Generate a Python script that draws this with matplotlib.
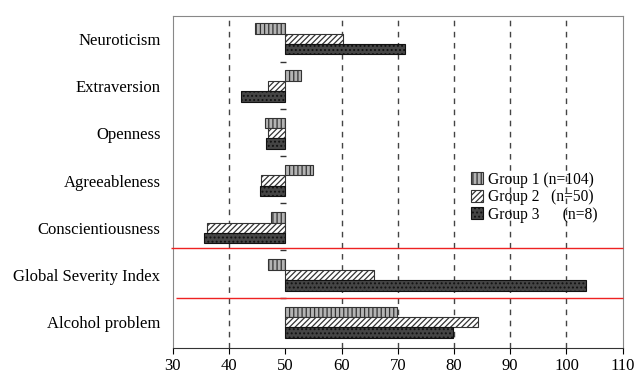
import matplotlib
matplotlib.use("Agg")
import matplotlib.pyplot as plt
import numpy as np

categories = ["Neuroticism", "Extraversion", "Openness", "Agreeableness",
              "Conscientiousness", "Global Severity Index", "Alcohol problem"]
group1 = [44.6, 52.7, 46.3, 55.0, 47.4, 46.9, 69.9]
group2 = [60.2, 47.0, 47.0, 45.7, 36.0, 65.7, 84.2]
group3 = [71.2, 42.1, 46.6, 45.5, 35.6, 103.5, 79.9]
labels = ["Group 1 (n=104)", "Group 2   (n=50)", "Group 3      (n=8)"]
base = 50

plt.rcParams["font.family"] = ["Liberation Serif", "DejaVu Serif"]
plt.rcParams["hatch.linewidth"] = 0.9

fig = plt.figure(figsize=(6.38, 3.76), dpi=100)
ax = fig.add_axes([0.271, 0.074, 0.705, 0.883])

y = np.arange(len(categories))
h = 0.22
styles = [
    dict(facecolor="#b4b4b4", hatch="||||", edgecolor="#333333"),
    dict(facecolor="white", hatch="//////", edgecolor="#333333"),
    dict(facecolor="#454545", hatch="....", edgecolor="#111111"),
]
for k, vals in enumerate([group1, group2, group3]):
    vals = np.array(vals)
    ax.barh(y + (k - 1) * h, vals - base, left=base, height=h,
            linewidth=0.8, label=labels[k], zorder=3, **styles[k])

for gx in [40, 60, 70, 80, 90, 100]:
    ax.axvline(gx, color="#444444", linestyle=(0, (4, 4)), linewidth=1.0, zorder=1)

# small category ticks just left of the 50 line
bounds = y[:-1] + 0.48
ax.plot([49.6] * len(bounds), bounds, marker="_", markersize=5, color="#333333",
        linestyle="none", zorder=4)

ax.hlines(4.43, 29.6, 110, color="#ee2222", linewidth=1.0, zorder=5, clip_on=False)
ax.hlines(5.49, 30.6, 110, color="#ee2222", linewidth=1.0, zorder=5, clip_on=False)

ax.set_xlim(30, 110)
ax.set_ylim(len(categories) - 0.45, -0.48)
ax.set_xticks(range(30, 111, 10))
ax.set_yticks(y)
ax.set_yticklabels(categories, fontsize=12)
ax.tick_params(axis="y", length=0, pad=9)
ax.tick_params(axis="x", labelsize=12, length=4, direction="out", pad=3)
for s in ["top", "right", "left"]:
    ax.spines[s].set_color("#888888")
ax.spines["bottom"].set_color("#333333")

ax.legend(loc="center left", bbox_to_anchor=(0.645, 0.455), frameon=False, fontsize=11.2,
          handlelength=0.8, handleheight=0.8, handletextpad=0.3, labelspacing=0.1,
          borderpad=0)

fig.savefig("out.png", dpi=100)
